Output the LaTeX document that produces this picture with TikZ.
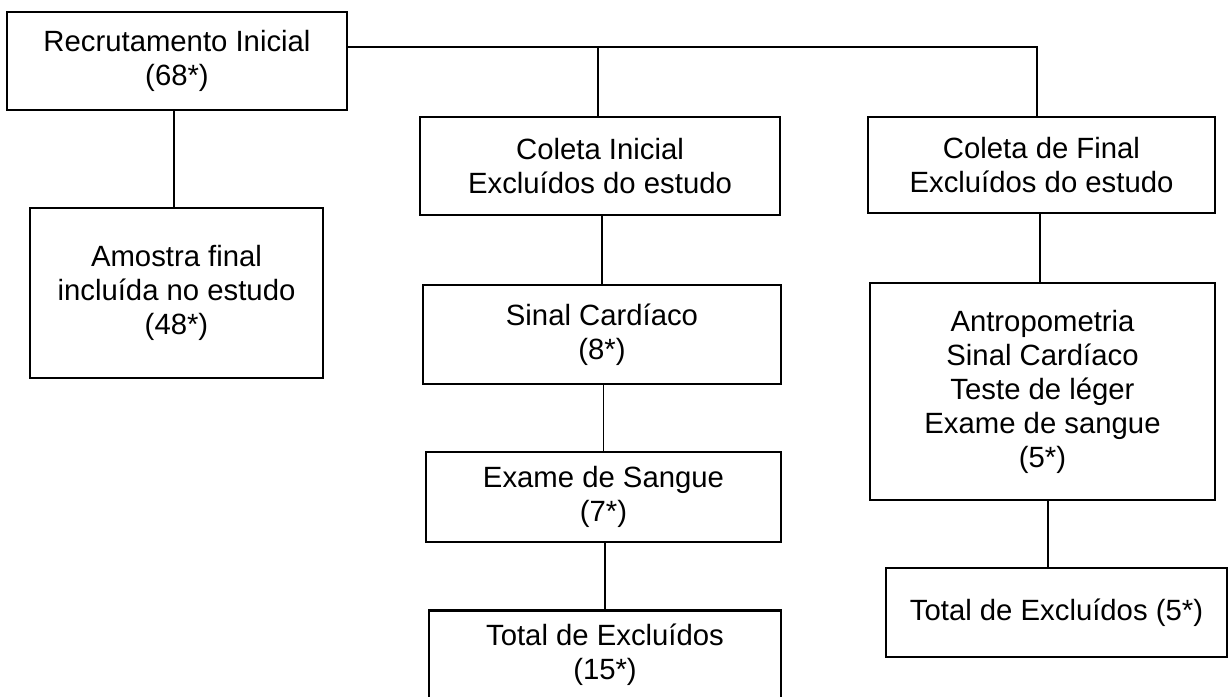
\documentclass[tikz,border=0pt]{standalone}
\usepackage{fontspec}
\setmainfont{Liberation Sans}
\begin{document}
\begin{tikzpicture}[x=1pt,y=-1pt,
  box/.style={draw=black,line width=2.6pt,inner sep=0pt,align=center,
    font=\fontsize{29.3}{34}\selectfont},
  link/.style={draw=black,line width=1.3pt}]
\useasboundingbox[fill=white] (0,0) rectangle (1230,696);
\node[box,minimum width=340pt,minimum height=98pt] (b1) at (177,61) {Recrutamento Inicial\\(68*)};
\node[box,minimum width=293pt,minimum height=170pt] (am) at (176.5,293) {Amostra final\\incluída no estudo\\(48*)};
\node[box,minimum width=360pt,minimum height=98pt] (ci) at (600,166) {Coleta Inicial\\Excluídos do estudo};
\node[box,minimum width=358pt,minimum height=99pt] (sc) at (602,334.5) {Sinal Cardíaco\\(8*)};
\node[box,minimum width=355pt,minimum height=90pt] (es) at (603.5,497) {Exame de Sangue\\(7*)};
\node[box,minimum width=352pt,minimum height=89pt,anchor=north] (tot) at (605,609) {\rule{0pt}{22pt}Total de Excluídos\\(15*)};
\node[box,minimum width=347pt,minimum height=96pt] (cf) at (1041.5,165) {Coleta de Final\\Excluídos do estudo};
\node[box,minimum width=345pt,minimum height=217pt] (an) at (1042.5,391.5) {Antropometria\\Sinal Cardíaco\\Teste de léger\\Exame de sangue\\(5*)};
\node[box,minimum width=341pt,minimum height=89pt] (t5) at (1056.5,612.5) {Total de Excluídos (5*)};
\coordinate (j1) at (598,47);
\coordinate (j2) at (1037,47);
\draw[link] (b1.east |- j1) -- (j2) -- (j2 |- cf.north);
\draw[link] (j1) -- (j1 |- ci.north);
\draw[link] ([xshift=-3pt]b1.south) -- ([xshift=-3pt]b1.south |- am.north);
\draw[link] (sc.north |- ci.south) -- (sc.north);
\draw[link] (es.north |- sc.south) -- (es.north);
\draw[link] (tot.north |- es.south) -- (tot.north);
\draw[link] ([xshift=-1.5pt]cf.south) -- ([xshift=-1.5pt]cf.south |- an.north);
\draw[link] ([xshift=5.5pt]an.south) -- ([xshift=5.5pt]an.south |- t5.north);
\end{tikzpicture}
\end{document}
